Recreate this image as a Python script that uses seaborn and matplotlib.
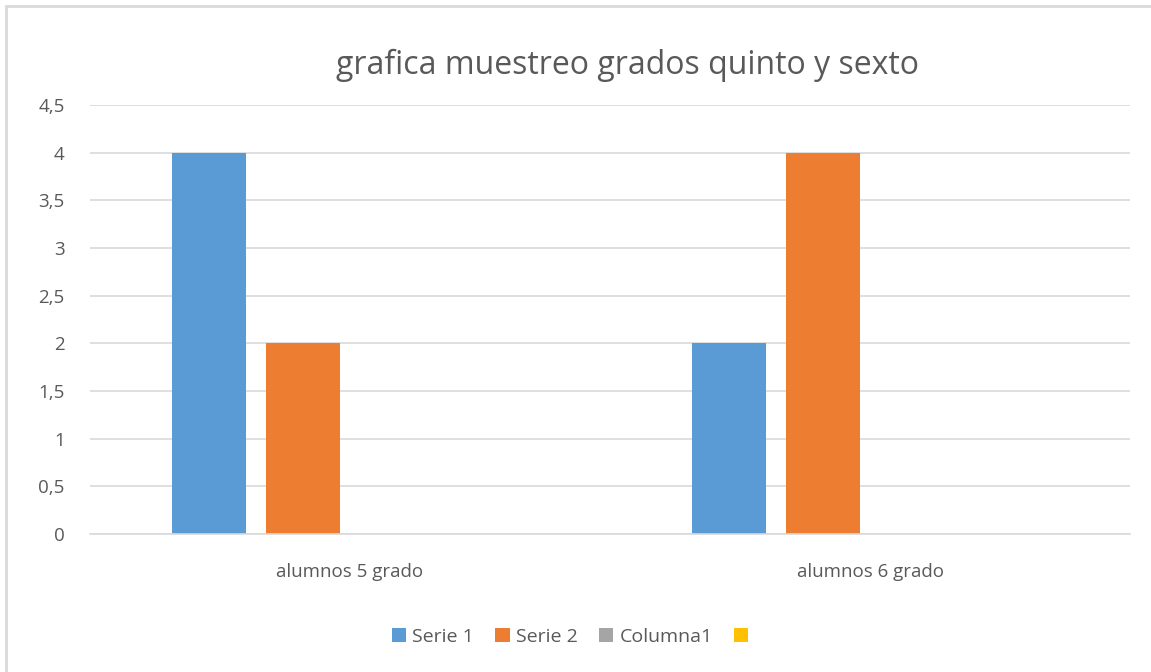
import numpy as np
import pandas as pd
import matplotlib.pyplot as plt
import seaborn as sns
from matplotlib.patches import Rectangle
from matplotlib.ticker import FuncFormatter

# --- data ---
categories = ['alumnos 5 grado', 'alumnos 6 grado']
series_names = ['Serie 1', 'Serie 2', 'Columna1', ' ']
serie1 = [4, 2]
serie2 = [2, 4]
columna1 = [0, 0]
serie4 = [0, 0]
colors = ['#5B9BD5', '#ED7D31', '#A5A5A5', '#FFC000']

rows = []
for name, vals in zip(series_names, [serie1, serie2, columna1, serie4]):
    for cat, v in zip(categories, vals):
        rows.append({'categoria': cat, 'serie': name, 'valor': v})
df = pd.DataFrame(rows)

sns.set_style('white')
plt.rcParams['font.family'] = ['Open Sans', 'DejaVu Sans']
text_color = '#595959'

fig = plt.figure(figsize=(11.51, 6.72), dpi=100)
ax = fig.add_axes([0.078, 0.2054, 0.904, 0.6384])

sns.barplot(data=df, x='categoria', y='valor', hue='serie', hue_order=series_names,
            palette=colors, width=0.723, gap=0.21, ax=ax, saturation=1,
            errorbar=None, edgecolor='none')

ax.set_ylim(0, 4.5)
ax.set_yticks(np.arange(0, 4.51, 0.5))
ax.yaxis.set_major_formatter(FuncFormatter(lambda v, p: f'{v:g}'.replace('.', ',')))
ax.grid(axis='y', color='#D9D9D9', linewidth=1.2)
ax.set_axisbelow(True)
for s in ['left', 'right', 'top']:
    ax.spines[s].set_visible(False)
ax.spines['bottom'].set_color('#D9D9D9')
ax.spines['bottom'].set_linewidth(1.2)
ax.tick_params(axis='y', length=0, pad=18, labelsize=13.5, labelcolor=text_color)
ax.tick_params(axis='x', length=0, pad=21, labelsize=13.5, labelcolor=text_color)
ax.set_xlabel('')
ax.set_ylabel('')

fig.text(0.545, 0.903, 'grafica muestreo grados quinto y sexto', ha='center', va='center',
         fontsize=23, color=text_color)

sns.move_legend(ax, 'center', bbox_to_anchor=(0.5, 0.052), bbox_transform=fig.transFigure,
                ncol=4, frameon=False, title=None, fontsize=14, handlelength=0.75,
                handleheight=0.75, handletextpad=0.3, columnspacing=1.1)
for t in ax.get_legend().get_texts():
    t.set_color(text_color)

# chart area border
fig.patches.append(Rectangle((6 / 1151, -0.1), 1.2, 1.1 - 6 / 672, transform=fig.transFigure,
                             fill=False, edgecolor='#D9D9D9', linewidth=2))

fig.savefig('out.png', dpi=100)
